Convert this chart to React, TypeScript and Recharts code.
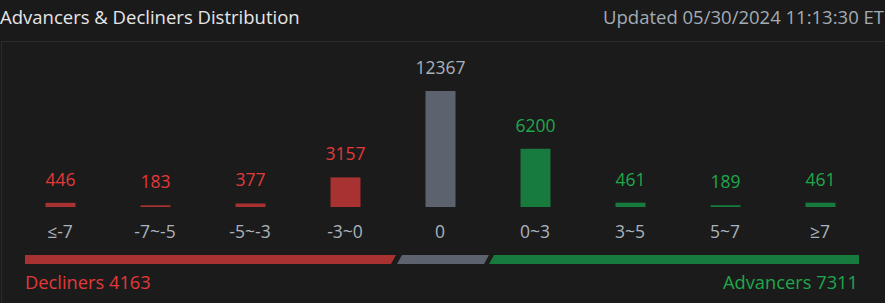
import { BarChart, Bar, XAxis, YAxis, Cell, LabelList } from "recharts";

const categories = ["≤-7", "-7~-5", "-5~-3", "-3~0", "0", "0~3", "3~5", "5~7", "≥7"];
const counts = [446, 183, 377, 3157, 12367, 6200, 461, 189, 461];
const sides = ["down", "down", "down", "down", "flat", "up", "up", "up", "up"];
const decliners = 4163;
const advancers = 7311;
const updatedAt = "05/30/2024 11:13:30 ET";

const FONT = "'Open Sans', 'Noto Sans', sans-serif";

const BAR_COLORS: Record<string, string> = {
  down: "#a83131",
  flat: "#5d636e",
  up: "#167b3d",
};

const TEXT_COLORS: Record<string, string> = {
  down: "#e2393a",
  flat: "#a8b0ba",
  up: "#1ea84b",
};

const data = categories.map((name, i) => ({ name, count: counts[i], side: sides[i] }));

function ValueLabel(props: any) {
  const { x, y, width, value, index } = props;
  const side = data[index]?.side ?? "flat";
  return (
    <text
      x={Number(x) + Number(width) / 2}
      y={Number(y) - 17}
      textAnchor="middle"
      fill={TEXT_COLORS[side]}
      fontSize={17.5}
      fontFamily={FONT}
    >
      {value}
    </text>
  );
}

// split bar under the chart, decorative only
function SplitBar() {
  const h = 9;
  const slant = 5;
  const segs = [
    { x0: 25, x1: 396, color: BAR_COLORS.down, left: false },
    { x0: 397, x1: 489, color: BAR_COLORS.flat, left: true },
    { x0: 489, x1: 859, color: BAR_COLORS.up, left: true },
  ];
  return (
    <svg width={885} height={h} style={{ position: "absolute", left: 0, top: 255 }}>
      {segs.map((s, i) => {
        const tl = s.left ? s.x0 + slant : s.x0;
        const bl = s.x0;
        const tr = s.x1;
        const br = i < segs.length - 1 ? s.x1 - slant : s.x1;
        return (
          <polygon
            key={i}
            points={`${tl},0 ${tr},0 ${br},${h} ${bl},${h}`}
            fill={s.color}
          />
        );
      })}
    </svg>
  );
}

export default function App() {
  return (
    <div
      style={{
        position: "fixed",
        left: 0,
        top: 0,
        width: 885,
        height: 303,
        background: "#1a1a1a",
        fontFamily: FONT,
        overflow: "hidden",
      }}
    >
      <div
        style={{
          position: "absolute",
          left: 0,
          top: 4,
          fontSize: 18.5,
          color: "#e6e6e6",
          whiteSpace: "nowrap",
        }}
      >
        Advancers &amp; Decliners Distribution
      </div>
      <div
        style={{
          position: "absolute",
          right: 1,
          top: 4,
          fontSize: 18.5,
          color: "#a3abb5",
          whiteSpace: "nowrap",
        }}
      >
        Updated {updatedAt}
      </div>
      <div
        style={{
          position: "absolute",
          left: 1,
          top: 41,
          width: 900,
          height: 300,
          borderTop: "1px solid #2b2b2b",
          borderLeft: "1px solid #2b2b2b",
          background: "#1b1b1b",
        }}
      />
      <div style={{ position: "absolute", left: 0, top: 0 }}>
        <BarChart
          width={885}
          height={247}
          data={data}
          margin={{ top: 91, right: 17.5, left: 12.5, bottom: 0 }}
        >
          <XAxis
            dataKey="name"
            axisLine={false}
            tickLine={false}
            tickSize={0}
            tickMargin={19}
            height={40}
            interval={0}
            tick={{ fill: "#aab3bd", fontSize: 17.5, fontFamily: FONT }}
          />
          <YAxis hide domain={[0, "dataMax"]} />
          <Bar dataKey="count" barSize={30} isAnimationActive={false}>
            {data.map((d, i) => (
              <Cell key={`cell-${i}`} fill={BAR_COLORS[d.side]} />
            ))}
            <LabelList dataKey="count" content={<ValueLabel />} />
          </Bar>
        </BarChart>
      </div>
      <SplitBar />
      <div
        style={{
          position: "absolute",
          left: 25,
          top: 269,
          fontSize: 18.3,
          color: TEXT_COLORS.down,
          whiteSpace: "nowrap",
        }}
      >
        Decliners {decliners}
      </div>
      <div
        style={{
          position: "absolute",
          right: 27,
          top: 269,
          fontSize: 18.3,
          color: TEXT_COLORS.up,
          whiteSpace: "nowrap",
        }}
      >
        Advancers {advancers}
      </div>
    </div>
  );
}
